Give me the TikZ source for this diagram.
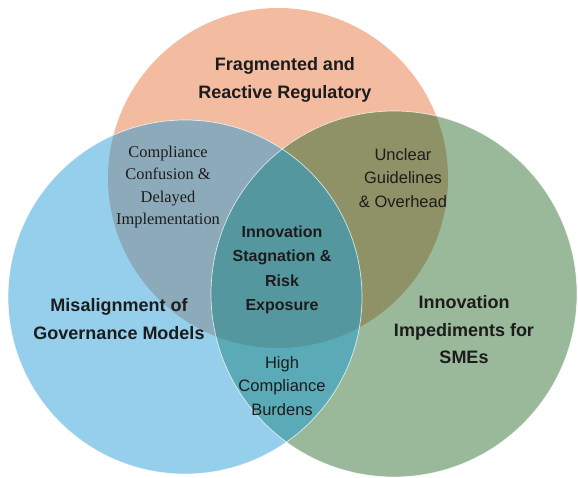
\documentclass[tikz,border=0pt]{standalone}
\usepackage{fontspec}
\setmainfont{Liberation Sans}
\newfontfamily\serifface{Liberation Serif}
\definecolor{cO}{HTML}{F3BCA1}
\definecolor{cB}{HTML}{96CFEB}
\definecolor{cG}{HTML}{99B99A}
\definecolor{cOB}{HTML}{8DAABB}
\definecolor{cOG}{HTML}{8F9266}
\definecolor{cBG}{HTML}{5AABB7}
\definecolor{cOBG}{HTML}{55979E}
\definecolor{ink}{HTML}{1C1C1C}
\tikzset{
  edge/.style={draw=white, line width=0.7pt, draw opacity=0.75},
  bigbold/.style={text=ink, align=center, font=\fontsize{18}{27.5}\selectfont\bfseries},
  midbold/.style={text=ink, align=center, font=\fontsize{16}{24.5}\selectfont\bfseries},
  midplain/.style={text=ink, align=center, font=\fontsize{16.5}{23.5}\selectfont},
  serifplain/.style={text=ink, align=center, font=\fontsize{16.4}{22.5}\serifface},
}
\begin{document}
\begin{tikzpicture}[x=1pt,y=-1pt]
\useasboundingbox (0,0) rectangle (578,478);
\coordinate (O) at (278,178);
\coordinate (B) at (185,297);
\coordinate (G) at (394,294);
\def\rO{170pt}
\def\rB{177pt}
\def\rG{183pt}
% single circles
\fill[cO] (O) circle[radius=\rO];
\fill[cB] (B) circle[radius=\rB];
\fill[cG] (G) circle[radius=\rG];
% pairwise overlaps
\begin{scope}
  \clip (O) circle[radius=\rO];
  \fill[cOB] (B) circle[radius=\rB];
  \fill[cOG] (G) circle[radius=\rG];
\end{scope}
\begin{scope}
  \clip (B) circle[radius=\rB];
  \fill[cBG] (G) circle[radius=\rG];
  \clip (O) circle[radius=\rO];
  \fill[cOBG] (G) circle[radius=\rG];
\end{scope}
% thin light outlines
\draw[edge] (B) circle[radius=\rB];
\draw[edge] (G) circle[radius=\rG];
% labels
\node[bigbold] (top) at (285,80) {Fragmented and\\Reactive Regulatory};
\node[bigbold] (left) at (119,319) {Misalignment of\\Governance Models};
\node[bigbold] (right) at (464,330) {Innovation\\Impediments for\\SMEs};
\node[midbold] (center) at (282,270) {Innovation\\Stagnation \&\\Risk\\Exposure};
\node[midplain] (lowlens) at (282,386) {High\\Compliance\\Burdens};
\node[serifplain] (ob) at (168,187) {Compliance\\Confusion \&\\Delayed\\Implementation};
\node[midplain] (og) at (403,178) {Unclear\\Guidelines\\\& Overhead};
\end{tikzpicture}
\end{document}
